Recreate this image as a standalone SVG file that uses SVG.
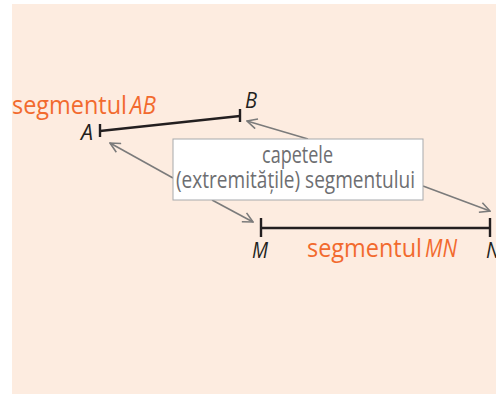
<svg xmlns="http://www.w3.org/2000/svg" width="496" height="394" viewBox="0 0 496 394">
  <style>
    .seg { stroke: #231f20; stroke-width: 2.4; fill: none; }
    .ptr { stroke: #7b7b7b; stroke-width: 1.6; fill: none; marker-end: url(#open); }
    .lbl { font-family: "Open Sans", "Noto Sans", sans-serif; fill: #f26a2e; font-size: 26px; }
    .it { font-style: italic; font-size: 25px; }
    .pt { font-family: "Open Sans", "Noto Sans", sans-serif; fill: #231f20; font-size: 21px; font-style: italic; }
    .note { font-family: "Open Sans", "Noto Sans", sans-serif; fill: #6d6e71; font-size: 24px; text-anchor: middle; }
  </style>
  <defs>
    <marker id="open" viewBox="0 0 12 12" refX="11" refY="6" markerWidth="12" markerHeight="12" markerUnits="userSpaceOnUse" orient="auto">
      <path d="M1,1 L11,6 L1,11" fill="none" stroke="#7b7b7b" stroke-width="1.6"/>
    </marker>
  </defs>

  <!-- background panel -->
  <rect x="12" y="4" width="484" height="390" fill="#fdece0"/>

  <!-- pointers from the note to the segment ends -->
  <g id="connectors">
    <line class="ptr" x1="308" y1="139" x2="247" y2="121"/>
    <line class="ptr" x1="173" y1="178" x2="110" y2="143"/>
    <line class="ptr" x1="212" y1="200" x2="253" y2="222"/>
    <line class="ptr" x1="423" y1="186" x2="490" y2="211"/>
  </g>

  <!-- segment AB -->
  <g id="segment-ab">
    <line class="seg" x1="100" y1="131" x2="240" y2="116"/>
    <line class="seg" x1="100" y1="124" x2="100" y2="137"/>
    <line class="seg" x1="240" y1="109" x2="240" y2="122"/>
    <text class="pt" x="81" y="140" textLength="12" lengthAdjust="spacingAndGlyphs">A</text>
    <text class="pt" x="245" y="108" textLength="12" lengthAdjust="spacingAndGlyphs">B</text>
    <text class="lbl" x="12" y="114" textLength="115" lengthAdjust="spacingAndGlyphs">segmentul</text>
    <text class="lbl it" x="130" y="114" textLength="26" lengthAdjust="spacingAndGlyphs">AB</text>
  </g>

  <!-- segment MN -->
  <g id="segment-mn">
    <line class="seg" x1="261" y1="228" x2="490" y2="228"/>
    <line class="seg" x1="261" y1="218" x2="261" y2="237"/>
    <line class="seg" x1="490" y1="218" x2="490" y2="237"/>
    <text class="pt" x="252" y="258" textLength="16" lengthAdjust="spacingAndGlyphs">M</text>
    <text class="pt" x="486" y="258" textLength="14" lengthAdjust="spacingAndGlyphs">N</text>
    <text class="lbl" x="307" y="257" textLength="115" lengthAdjust="spacingAndGlyphs">segmentul</text>
    <text class="lbl it" x="425" y="257" textLength="32" lengthAdjust="spacingAndGlyphs">MN</text>
  </g>

  <!-- note box -->
  <g id="note">
    <rect x="173" y="139" width="250" height="61" fill="#ffffff" stroke="#a7a9ac" stroke-width="1"/>
    <text class="note" x="297.5" y="163" textLength="71" lengthAdjust="spacingAndGlyphs">capetele</text>
    <text class="note" x="295.5" y="188" textLength="239" lengthAdjust="spacingAndGlyphs">(extremitățile) segmentului</text>
  </g>
</svg>
